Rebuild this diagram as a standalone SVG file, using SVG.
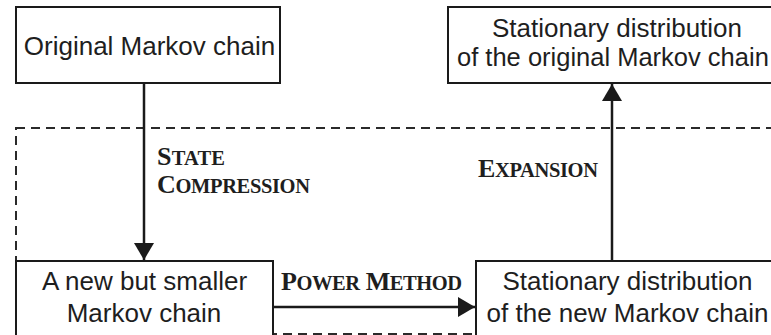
<svg xmlns="http://www.w3.org/2000/svg" width="771" height="335" viewBox="0 0 771 335">
  <style>
    .box { fill: #ffffff; stroke: #1a1a1a; stroke-width: 2; }
    .node-text { font-family: "Liberation Sans", Arial, sans-serif; font-size: 26px; fill: #1e1e1e; }
    .edge { stroke: #1a1a1a; stroke-width: 2.5; fill: none; }
    .dash { stroke: #2a2a2a; stroke-width: 2; fill: none; stroke-dasharray: 9 6; }
    .label { font-family: "Liberation Serif", "Times New Roman", serif; font-weight: bold; font-size: 26px; fill: #1e1e1e; }
    .sc { font-size: 20.5px; }
  </style>
  <defs>
    <marker id="arrow" viewBox="0 0 17 20" refX="17" refY="10" markerWidth="17" markerHeight="20" markerUnits="userSpaceOnUse" orient="auto">
      <path d="M0,0 L17,10 L0,20 Z" fill="#1a1a1a"/>
    </marker>
  </defs>

  <rect class="dash" x="16" y="128" width="770" height="206"/>

  <g id="connectors">
    <line class="edge" x1="144" y1="83" x2="144" y2="260" marker-end="url(#arrow)"/>
    <line class="edge" x1="273" y1="307" x2="475" y2="307" marker-end="url(#arrow)"/>
    <line class="edge" x1="612" y1="261" x2="612" y2="84" marker-end="url(#arrow)"/>
    <text class="label" x="157" y="165" textLength="68" lengthAdjust="spacing">S<tspan class="sc">TATE</tspan></text>
    <text class="label" x="157" y="193" textLength="153" lengthAdjust="spacing">C<tspan class="sc">OMPRESSION</tspan></text>
    <text class="label" x="281" y="290" textLength="181" lengthAdjust="spacing">P<tspan class="sc">OWER</tspan> M<tspan class="sc">ETHOD</tspan></text>
    <text class="label" x="478" y="177" textLength="120" lengthAdjust="spacing">E<tspan class="sc">XPANSION</tspan></text>
  </g>

  <g id="original">
    <rect class="box" x="16" y="7" width="264" height="76"/>
    <text class="node-text" x="149.5" y="55" text-anchor="middle">Original Markov chain</text>
  </g>

  <g id="stationary-original">
    <rect class="box" x="448" y="7" width="340" height="76"/>
    <text class="node-text" x="617" y="37" text-anchor="middle">Stationary distribution</text>
    <text class="node-text" x="457" y="66" style="font-size:25.5px">of the original Markov chain</text>
  </g>

  <g id="smaller">
    <rect class="box" x="16" y="261" width="257" height="90"/>
    <text class="node-text" x="144.5" y="290" text-anchor="middle">A new but smaller</text>
    <text class="node-text" x="144" y="322" text-anchor="middle">Markov chain</text>
  </g>

  <g id="stationary-new">
    <rect class="box" x="476" y="261" width="310" height="90"/>
    <text class="node-text" x="627.5" y="290" text-anchor="middle">Stationary distribution</text>
    <text class="node-text" x="627.5" y="322" text-anchor="middle">of the new Markov chain</text>
  </g>
</svg>
